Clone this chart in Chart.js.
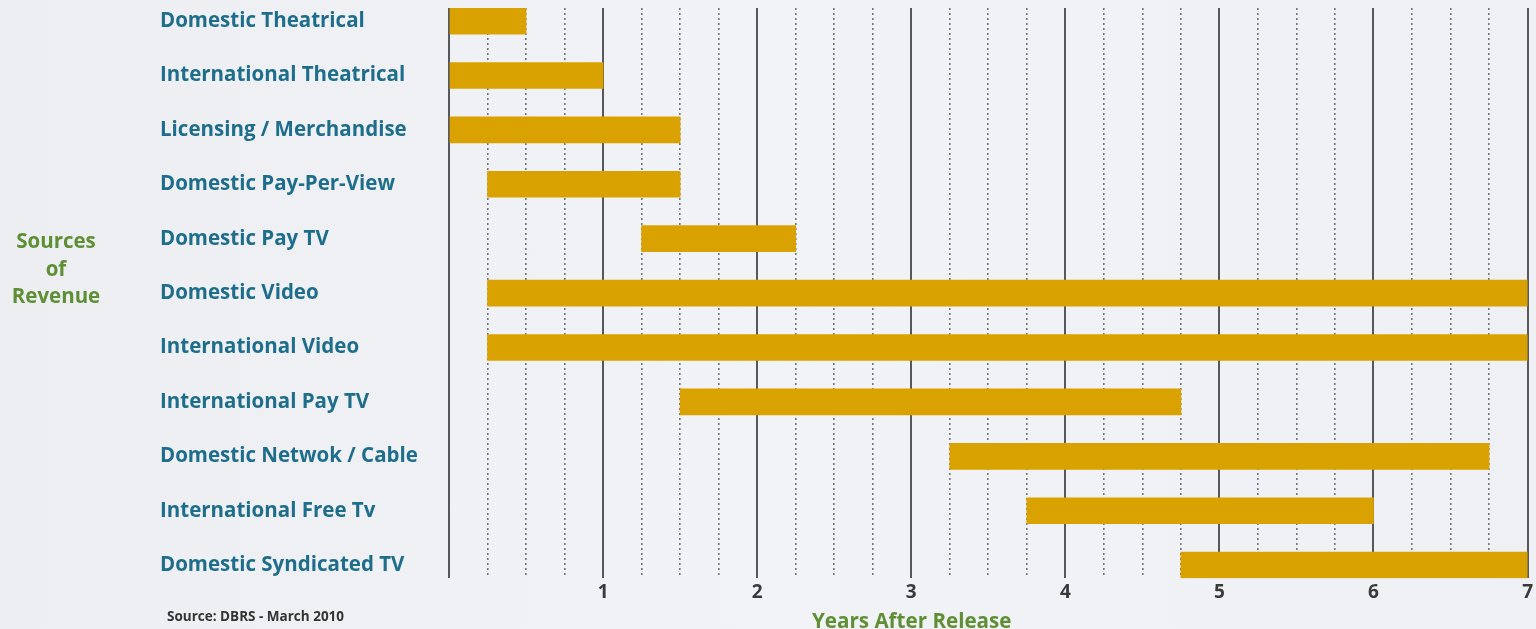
<!DOCTYPE html>
<html>
<head>
<meta charset="utf-8">
<script src="https://cdn.jsdelivr.net/npm/chart.js@4/dist/chart.umd.min.js"></script>
<style>
  html, body { margin: 0; padding: 0; }
  body { width: 1536px; height: 629px; overflow: hidden; position: relative;
         background: linear-gradient(90deg, #eceef1 0%, #f1f3f6 50%, #eef0f3 100%); }
  #wrap { position: absolute; left: 0; top: 0; width: 1536px; height: 629px; }
  .note { position: absolute; font-family: "Open Sans", Lato, sans-serif; font-weight: 700; white-space: nowrap; }
  #ytitle { left: 0; width: 112px; top: 227px; text-align: center; color: #5f8f35; font-size: 20.5px; line-height: 27.5px; }
  #xtitle { left: 812px; top: 606px; color: #5f8f35; font-size: 20.6px; }
  #source { left: 167px; top: 607px; color: #333; font-size: 13.5px; }
</style>
</head>
<body>
<div id="wrap"><canvas id="c" width="1536" height="629"></canvas></div>
<div class="note" id="ytitle">Sources<br>of<br>Revenue</div>
<div class="note" id="xtitle">Years After Release</div>
<div class="note" id="source">Source: DBRS - March 2010</div>
<script>
const categories = [
  "Domestic Theatrical",
  "International Theatrical",
  "Licensing / Merchandise",
  "Domestic Pay-Per-View",
  "Domestic Pay TV",
  "Domestic Video",
  "International Video",
  "International Pay TV",
  "Domestic Netwok / Cable",
  "International Free Tv",
  "Domestic Syndicated TV"
];
const startYears = [0, 0, 0, 0.25, 1.25, 0.25, 0.25, 1.5, 3.25, 3.75, 4.75];
const endYears   = [0.5, 1, 1.5, 1.5, 2.25, 7, 7, 4.75, 6.75, 6, 7];
const xTickLabels = ["", "1", "2", "3", "4", "5", "6", "7"];

const points = categories.map((c, i) => ({ y: i, x: [startYears[i], endYears[i]] }));

new Chart(document.getElementById('c'), {
  type: 'bar',
  data: {
    datasets: [{
      data: points,
      backgroundColor: '#d9a200',
      borderWidth: 0,
      barThickness: 26,
      borderSkipped: false
    }]
  },
  options: {
    indexAxis: 'y',
    responsive: false,
    animation: false,
    layout: { padding: { left: 160, right: 8, top: 8, bottom: 22 } },
    plugins: { legend: { display: false }, tooltip: { enabled: false } },
    scales: {
      y: {
        type: 'linear',
        reverse: true,
        offset: false,
        min: -0.24,
        max: 10.24,
        afterBuildTicks: (s) => { s.ticks = categories.map((c, i) => ({ value: i })); },
        afterFit: (s) => { s.width = 289; s.paddingTop = 0; s.paddingBottom = 0; },
        grid: { display: false, offset: false },
        border: { display: false },
        ticks: {
          crossAlign: 'far',
          color: '#1e6d8a',
          font: { family: 'Open Sans', weight: 'bold', size: 20.5 },
          callback: (v) => categories[v] ?? ''
        }
      },
      x: {
        type: 'linear',
        min: 0,
        max: 7,
        z: 1,
        afterBuildTicks: (s) => {
          const t = [];
          for (let i = 0; i <= 28; i++) t.push({ value: i / 4 });
          s.ticks = t;
        },
        grid: {
          drawTicks: false,
          color: (ctx) => Number.isInteger(ctx.tick.value) ? '#56585c' : '#70757f',
          lineWidth: (ctx) => Number.isInteger(ctx.tick.value) ? 2 : 1.6
        },
        border: {
          display: false,
          dash: (ctx) => (ctx.tick && Number.isInteger(ctx.tick.value)) ? [] : [2, 3]
        },
        ticks: {
          padding: 3,
          autoSkip: false,
          maxRotation: 0,
          color: '#3a3a3a',
          font: { family: 'Open Sans', weight: 'bold', size: 19 },
          callback: (v) => Number.isInteger(v) ? xTickLabels[v] : ''
        }
      }
    }
  }
});
</script>
</body>
</html>
